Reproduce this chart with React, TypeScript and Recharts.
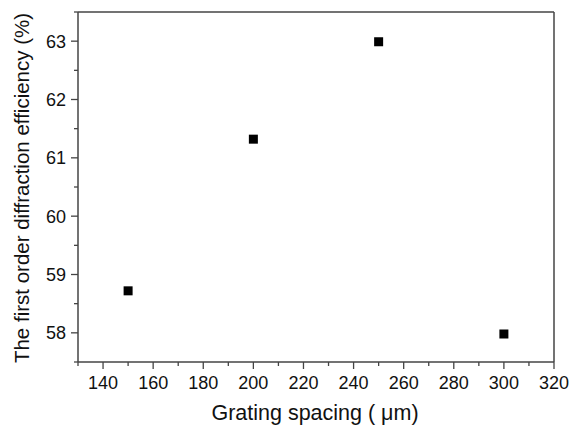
import React from "react";
import { ScatterChart, Scatter, XAxis, YAxis } from "recharts";

const spacing = [150, 200, 250, 300];
const efficiency = [58.72, 61.32, 62.99, 57.98];
const xTicks = [130, 140, 150, 160, 170, 180, 190, 200, 210, 220, 230, 240, 250, 260, 270, 280, 290, 300, 310, 320];
const yTicks = [57.5, 58, 58.5, 59, 59.5, 60, 60.5, 61, 61.5, 62, 62.5, 63, 63.5];

const data = spacing.map((x, i) => ({ x, y: efficiency[i] }));

const FONT = "'Liberation Sans', Arial, sans-serif";
const AX = "#444";

const XTick = (props: any) => {
  const { x, y, payload } = props;
  const v = payload.value;
  const major = v % 20 === 0;
  return (
    <g>
      <line x1={x} x2={x} y1={y} y2={y + (major ? 7 : 4)} stroke={AX} strokeWidth={1.3} />
      {major && (
        <text x={x} y={y + 27} textAnchor="middle" fontSize={18} fontFamily={FONT} fill="#111">
          {v}
        </text>
      )}
    </g>
  );
};

const YTick = (props: any) => {
  const { x, y, payload } = props;
  const v = payload.value;
  const major = Number.isInteger(v) && v >= 58 && v <= 63;
  return (
    <g>
      <line x1={x} x2={x - (major ? 7 : 4)} y1={y} y2={y} stroke={AX} strokeWidth={1.3} />
      {major && (
        <text x={x - 12} y={y + 6.5} textAnchor="end" fontSize={18} fontFamily={FONT} fill="#111">
          {v}
        </text>
      )}
    </g>
  );
};

const Square = (props: any) => {
  const { cx, cy } = props;
  return <rect x={cx - 4.5} y={cy - 4.5} width={9} height={9} fill="#000" />;
};

export default function App() {
  return (
    <div style={{ position: "absolute", left: 0, top: 0, width: 571, height: 427, background: "#fff" }}>
      <ScatterChart width={571} height={427} margin={{ top: 11, right: 16, bottom: 64, left: 77 }}>
        <XAxis
          xAxisId="b"
          type="number"
          dataKey="x"
          domain={[130, 320]}
          ticks={xTicks}
          interval={0}
          height={1}
          tickSize={0}
          tickMargin={0}
          tick={<XTick />}
          tickLine={false}
          axisLine={{ stroke: AX, strokeWidth: 1.5 }}
        />
        <XAxis
          xAxisId="t"
          orientation="top"
          type="number"
          dataKey="x"
          domain={[130, 320]}
          height={1}
          tick={false}
          tickLine={false}
          axisLine={{ stroke: AX, strokeWidth: 1.5 }}
        />
        <YAxis
          yAxisId="l"
          type="number"
          dataKey="y"
          domain={[57.5, 63.5]}
          ticks={yTicks}
          interval={0}
          width={1}
          tickSize={0}
          tickMargin={0}
          tick={<YTick />}
          tickLine={false}
          axisLine={{ stroke: AX, strokeWidth: 1.5 }}
        />
        <YAxis
          yAxisId="r"
          orientation="right"
          type="number"
          dataKey="y"
          domain={[57.5, 63.5]}
          width={1}
          tick={false}
          tickLine={false}
          axisLine={{ stroke: AX, strokeWidth: 1.5 }}
        />
        <Scatter data={data} xAxisId="b" yAxisId="l" shape={<Square />} isAnimationActive={false} />
      </ScatterChart>
      <div
        style={{
          position: "absolute",
          left: 22,
          top: 188,
          transform: "translate(-50%, -50%) rotate(-90deg)",
          whiteSpace: "nowrap",
          fontSize: 20.5,
          lineHeight: "24px",
          fontFamily: FONT,
          color: "#111",
        }}
      >
        The first order diffraction efficiency (%)
      </div>
      <div
        style={{
          position: "absolute",
          left: 315,
          top: 413,
          transform: "translate(-50%, -50%)",
          whiteSpace: "nowrap",
          fontSize: 21.5,
          lineHeight: "24px",
          fontFamily: FONT,
          color: "#111",
        }}
      >
        Grating spacing ( {"\u03bc"}m)
      </div>
    </div>
  );
}
